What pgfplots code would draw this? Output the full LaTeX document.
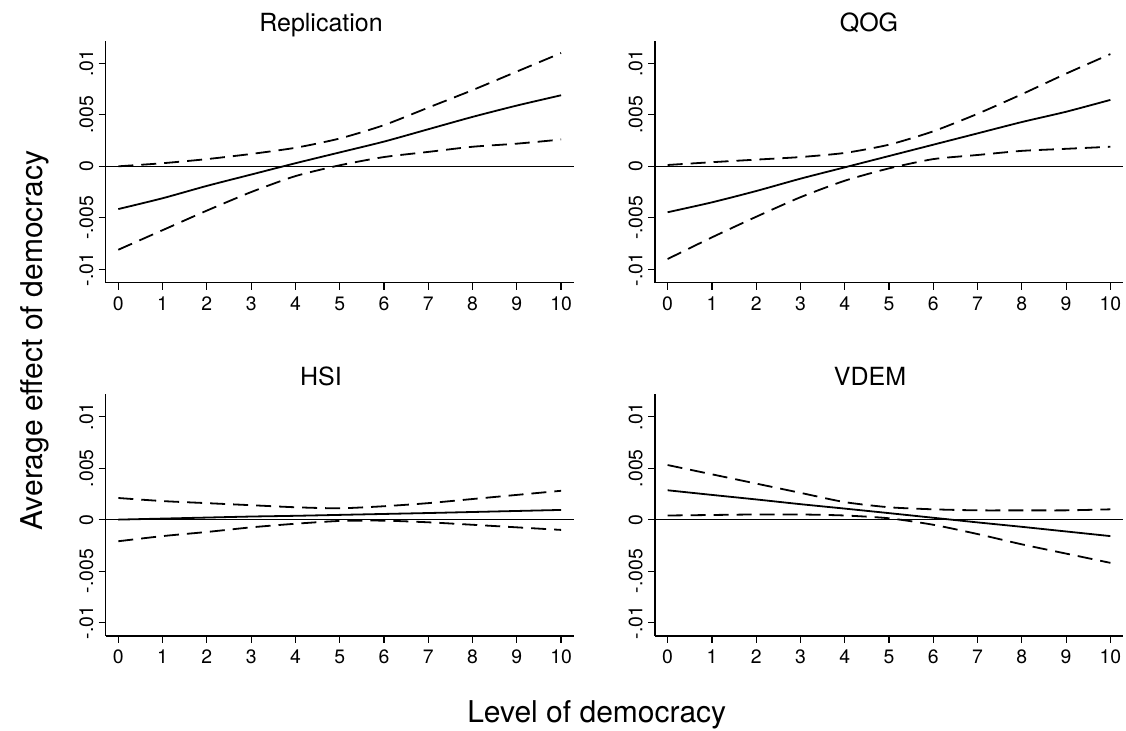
\documentclass[border=0pt]{standalone}
\usepackage{fontspec}
\setmainfont{TeX Gyre Heros}
\usepackage{pgfplots}
\usepackage{pgfplotstable}
\pgfplotsset{compat=1.18}

\pgfplotstableread{
x est up lo
0 -0.00415 0.0000 -0.0081
1 -0.0031 0.0003 -0.0062
2 -0.0019 0.0007 -0.0043
3 -0.0008 0.0012 -0.0025
4 0.0003 0.0018 -0.00095
5 0.00135 0.0027 0.0001
6 0.0024 0.0040 0.0009
7 0.0036 0.0057 0.0014
8 0.0048 0.0074 0.0019
9 0.0059 0.0092 0.0022
10 0.0069 0.0110 0.0026
}\replication

\pgfplotstableread{
x est up lo
0 -0.00446 0.00013 -0.0090
1 -0.0035 0.0004 -0.0069
2 -0.0024 0.00065 -0.0049
3 -0.0012 0.0009 -0.0030
4 -0.0001 0.0013 -0.0014
5 0.0010 0.0021 -0.0002
6 0.0021 0.0034 0.0007
7 0.0032 0.0051 0.0011
8 0.0043 0.0070 0.0015
9 0.0053 0.0090 0.0017
10 0.00645 0.0109 0.0019
}\qog

\pgfplotstableread{
x est up lo
0 0.0000 0.0021 -0.0021
1 0.0001 0.0018 -0.0016
2 0.0002 0.0016 -0.0012
3 0.0003 0.0014 -0.00075
4 0.00037 0.0012 -0.0004
5 0.00046 0.0011 -0.00013
6 0.00055 0.0013 -0.0001
7 0.00064 0.0016 -0.00026
8 0.00074 0.0020 -0.0005
9 0.00084 0.0024 -0.00075
10 0.00094 0.0028 -0.0010
}\hsi

\pgfplotstableread{
x est up lo
0 0.00285 0.0053 0.0004
1 0.0024 0.0044 0.00045
2 0.00196 0.0035 0.0005
3 0.0015 0.0026 0.0005
4 0.00107 0.0017 0.0004
5 0.00063 0.0012 0.00013
6 0.00018 0.0010 -0.0005
7 -0.00027 0.0009 -0.0014
8 -0.0007 0.0009 -0.0024
9 -0.00115 0.0009 -0.0033
10 -0.0016 0.0010 -0.0042
}\vdem

\pgfplotsset{
  panel/.style={
    scale only axis,
    width=234pt, height=121pt,
    anchor=south west,
    xmin=-0.285, xmax=10.285,
    ymin=-0.0113, ymax=0.0122,
    axis x line*=bottom, axis y line*=left,
    axis line style={black, line width=0.6pt},
    tick align=outside,
    major tick length=3.5pt,
    tick style={black, line width=0.6pt},
    xtick={0,1,...,10},
    ytick={-0.01,-0.005,0,0.005,0.01},
    yticklabels={-.01,-.005,0,.005,.01},
    scaled y ticks=false,
    /pgf/number format/assume math mode=true,
    ticklabel style={font=\fontsize{9.7pt}{11pt}\selectfont},
    yticklabel style={rotate=90, anchor=south, inner sep=2.5pt},
    clip=false,
  },
  est/.style={black, line width=0.9pt, smooth, tension=0.4, no markers},
  ci/.style={black, line width=0.9pt, smooth, tension=0.4, no markers, dash pattern=on 7.5pt off 4pt},
  zero/.style={black, line width=0.6pt, no markers},
}

\begin{document}
\begin{tikzpicture}
\path[use as bounding box] (0,0) rectangle (563pt,365.5pt);

\begin{axis}[panel, at={(52.85pt,224.15pt)}]
\addplot[zero] coordinates {(-0.285,0) (10.285,0)};
\addplot[ci] table[x=x,y=up]{\replication};
\addplot[ci] table[x=x,y=lo]{\replication};
\addplot[est] table[x=x,y=est]{\replication};
\end{axis}

\begin{axis}[panel, at={(327.5pt,224.15pt)}]
\addplot[zero] coordinates {(-0.285,0) (10.285,0)};
\addplot[ci] table[x=x,y=up]{\qog};
\addplot[ci] table[x=x,y=lo]{\qog};
\addplot[est] table[x=x,y=est]{\qog};
\end{axis}

\begin{axis}[panel, at={(52.85pt,47.5pt)}]
\addplot[zero] coordinates {(-0.285,0) (10.285,0)};
\addplot[ci] table[x=x,y=up]{\hsi};
\addplot[ci] table[x=x,y=lo]{\hsi};
\addplot[est] table[x=x,y=est]{\hsi};
\end{axis}

\begin{axis}[panel, at={(327.5pt,47.5pt)}]
\addplot[zero] coordinates {(-0.285,0) (10.285,0)};
\addplot[ci] table[x=x,y=up]{\vdem};
\addplot[ci] table[x=x,y=lo]{\vdem};
\addplot[est] table[x=x,y=est]{\vdem};
\end{axis}

\node[anchor=base, font=\fontsize{12.5pt}{14pt}\selectfont] at (160.5pt,349.65pt) {Replication};
\node[anchor=base, font=\fontsize{12.5pt}{14pt}\selectfont] at (434.5pt,349.65pt) {QOG};
\node[anchor=base, font=\fontsize{12.5pt}{14pt}\selectfont] at (160.5pt,172.65pt) {HSI};
\node[anchor=base, font=\fontsize{12.5pt}{14pt}\selectfont] at (435pt,172.65pt) {VDEM};

\node[anchor=base, rotate=90, font=\fontsize{15pt}{17pt}\selectfont] at (21.3pt,195.25pt) {Average effect of democracy};
\node[anchor=base, font=\fontsize{15pt}{17pt}\selectfont] at (298.35pt,4.15pt) {Level of democracy};
\end{tikzpicture}
\end{document}
